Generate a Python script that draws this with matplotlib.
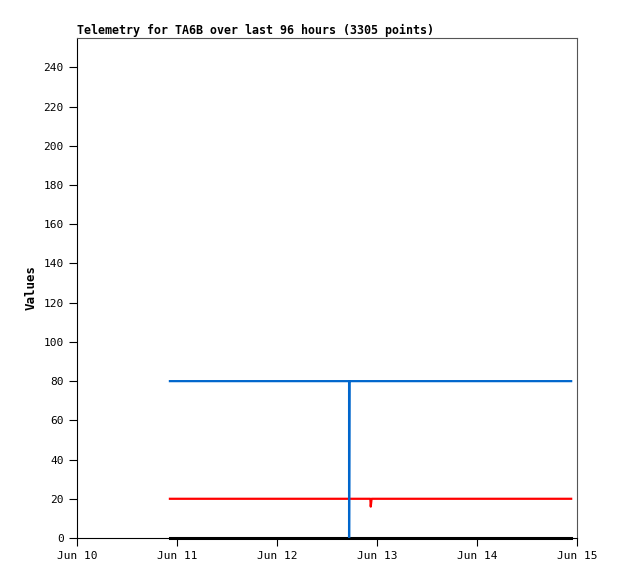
import numpy as np
import pandas as pd
import matplotlib
matplotlib.use("Agg")
import matplotlib.pyplot as plt
import matplotlib.dates as mdates

# hours after Jun 10 00:00
blue_hours = [22.3, 65.3, 65.3, 65.4, 118.6]
blue_vals = [80, 80, 0, 80, 80]
red_hours = [22.3, 70.4, 70.5, 70.7, 118.6]
red_vals = [20, 20, 16, 20, 20]
black_hours = [22.3, 118.6]
black_vals = [0, 0]

base = pd.Timestamp("2024-06-10")
def to_t(h):
    return base + pd.to_timedelta(np.array(h), unit="h")

plt.rcParams['font.family'] = ['DejaVu Sans Mono']
fig = plt.figure(figsize=(6.18, 5.79), dpi=100)
ax = fig.add_axes([77/618, 1 - 538/579, 500/618, 500/579])

ax.plot(to_t(black_hours), black_vals, color='black', lw=2.2, clip_on=False)
ax.plot(to_t(red_hours), red_vals, color='#ff0000', lw=1.6)
ax.plot(to_t(blue_hours), blue_vals, color='#0066cc', lw=1.6)

ax.set_xlim(base, base + pd.Timedelta(days=5))
ax.set_ylim(0, 255)
ax.set_yticks(np.arange(0, 241, 20))
ax.xaxis.set_major_locator(mdates.DayLocator())
ax.xaxis.set_major_formatter(mdates.DateFormatter('%b %d'))
ax.tick_params(labelsize=8, length=6, color='black', direction='out')
for s in ['top', 'right']:
    ax.spines[s].set_color('#555555')
ax.set_ylabel('Values', fontsize=9, fontweight='bold')
ax.set_title('Telemetry for TA6B over last 96 hours (3305 points)', fontsize=8.4,
             fontweight='bold', loc='left', pad=3)

fig.savefig('out.png', dpi=100)
